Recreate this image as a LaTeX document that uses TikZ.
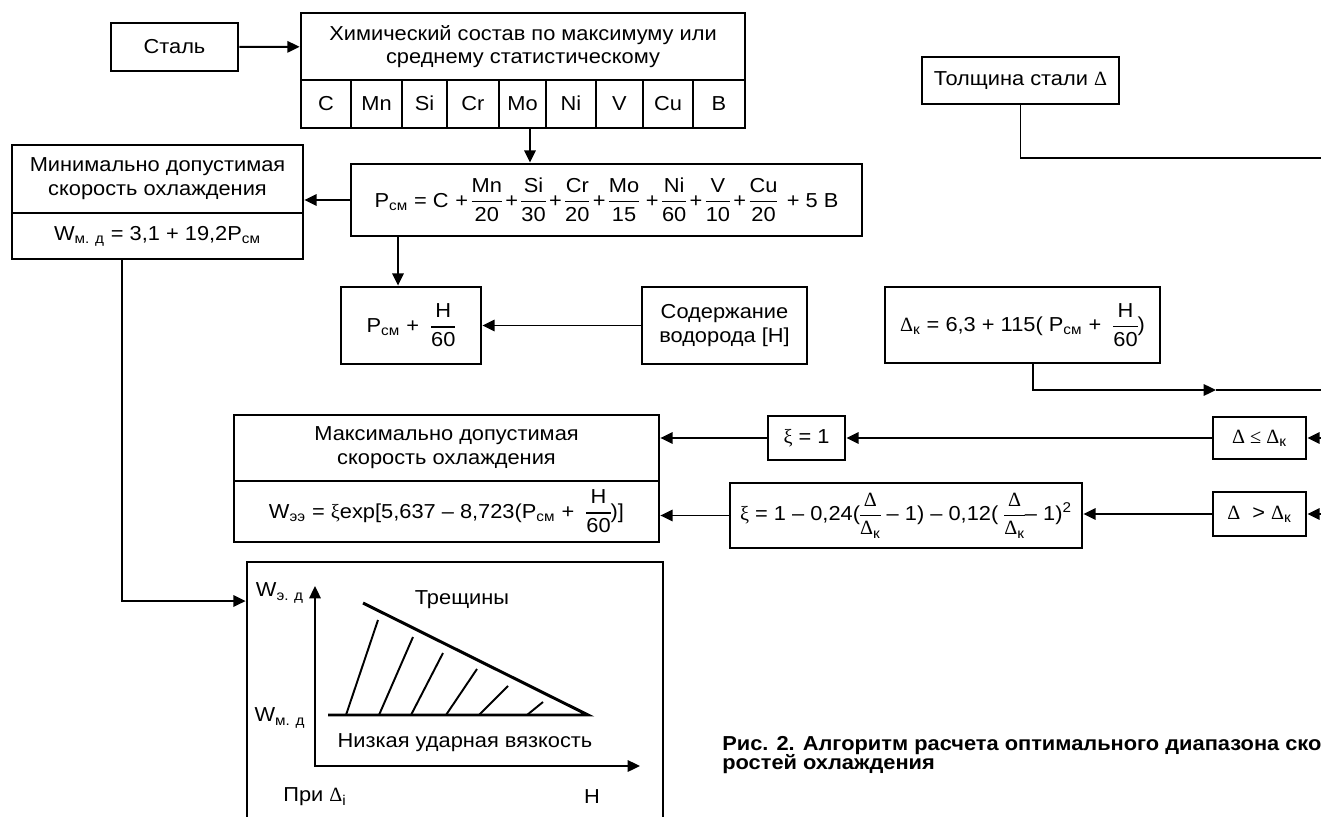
\documentclass[tikz,border=0pt]{standalone}
\usepackage{amsmath}
\usepackage{fontspec}
\setmainfont{Liberation Sans}[FakeStretch=1.08]
\newfontfamily\grk{Liberation Serif}
\usetikzlibrary{arrows.meta,positioning,calc}
\newcommand{\drob}[2]{\ensuremath{\nulldelimiterspace=0pt\genfrac{}{}{0.7pt}{0}{\text{#1}}{\text{#2}}}}
\tikzset{
  txt/.style={font=\fontsize{11.5}{13.5}\selectfont, align=center},
  blk/.style={txt, draw, line width=1.6pt, inner sep=2pt},
  cell/.style={blk, minimum height=0.96cm, text height=1.7ex, text depth=0.3ex},
  con/.style={line width=1.1pt},
  arr/.style={con, -{Triangle[length=7pt,width=6.5pt]}},
  caption/.style={font=\fontsize{11.5}{11}\selectfont\bfseries, align=left, inner sep=0pt},
}

\begin{document}
\begin{tikzpicture}[x=0.02cm, y=-0.02cm]
  \useasboundingbox (0,0) rectangle (1321,817);
  \clip (0,0) rectangle (1321,817);

  % upper left: steel and composition
  \node[blk, minimum width=2.54cm, minimum height=0.96cm] (steel) at (174.5,47) {Сталь};
  \node[blk, minimum width=8.88cm, minimum height=1.34cm] (chem) at (523,46.5)
       {Химический состав по максимуму или\\среднему статистическому};
  \foreach \el/\xa/\xb in {C/301/351, Mn/351/402, Si/402/447, Cr/447/499, Mo/499/546,
                           Ni/546/596, V/596/643, Cu/643/693, B/693/745}
    \node[cell, minimum width={(\xb-\xa)*0.02cm}] (c\el) at ({(\xa+\xb)/2},104) {\el};

  \node[blk, minimum width=10.22cm, minimum height=1.44cm] (pcm) at (606.5,200)
       {P\textsubscript{см} = C\,\,+\,\drob{Mn}{20}\,+\,\drob{Si}{30}\,+\,\drob{Cr}{20}\,+\,\drob{Mo}{15}\,\,+\,\drob{Ni}{60}\,+\,\drob{V}{10}\,+\,\drob{Cu}{20}\, + 5 B};

  \node[blk, minimum width=5.82cm, minimum height=1.36cm] (minhead) at (157.5,179)
       {Минимально допустимая\\скорость охлаждения};
  \node[blk, minimum width=5.82cm, minimum height=0.92cm] (minf) at (157.5,236)
       {W\textsubscript{м. д} = 3,1 + 19,2P\textsubscript{см}};

  \node[blk, minimum width=2.8cm, minimum height=1.54cm] (pcmh) at (411,325.5)
       {P\textsubscript{см} + \ \drob{H}{60}};
  \node[blk, minimum width=3.3cm, minimum height=1.54cm] (hyd) at (724.5,325.5)
       {Содержание\\водорода [H]};

  % right side: thickness and critical thickness
  \node[blk, minimum width=3.94cm, minimum height=0.94cm] (thick) at (1020.5,80.5)
       {Толщина стали {\grk Δ}};
  \node[blk, minimum width=5.5cm, minimum height=1.52cm] (dk) at (1022.5,325)
       {{\grk Δ}\textsubscript{к} = 6,3 + 115( P\textsubscript{см} + \ \drob{H}{60})};
  \node[blk, minimum width=1.86cm, minimum height=0.84cm] (le) at (1259.5,438)
       {{\grk Δ ≤ Δ}\textsubscript{к}};
  \node[blk, minimum width=1.86cm, minimum height=0.88cm] (gt) at (1259.5,514)
       {{\grk Δ}\ \ > {\grk Δ}\textsubscript{к}};
  \node[blk, minimum width=1.54cm, minimum height=0.88cm] (xione) at (806.5,438)
       {{\grk ξ} = 1};
  \node[blk, minimum width=7.04cm, minimum height=1.3cm] (xif) at (906,515.5)
       {{\grk ξ} = 1 -- 0,24(\drob{\grk Δ}{{\grk Δ}\textsubscript{к}} -- 1) -- 0,12( \drob{\grk Δ}{{\grk Δ}\textsubscript{к}}-- 1)\textsuperscript{2}};

  \node[blk, minimum width=8.5cm, minimum height=1.32cm] (maxhead) at (446.5,448)
       {Максимально допустимая\\скорость охлаждения};
  \node[blk, minimum width=8.5cm, minimum height=1.22cm] (maxf) at (446.5,511.5)
       {W\textsubscript{ээ} = {\grk ξ}exp[5,637 -- 8,723(P\textsubscript{см} + \ \drob{H}{60})]};

  % cooling rate plot
  \node[blk, minimum width=8.32cm, minimum height=5.36cm] (plot) at (455,696) {};
  \draw[con, {Triangle[length=7pt,width=6.5pt]}-{Triangle[length=7pt,width=6.5pt]}]
       (315,586) -- (315,766) -- (640,766);
  \draw[line width=1.7pt] (363,603) -- (588,715) -- (328,715);
  \foreach \xa/\xb/\yb in {346/378/620, 379/413/637, 411/443/653, 446/477/669, 479/508/686, 527/543/702}
    \draw[con] (\xa,715) -- (\xb,\yb);
  \node[txt] (wed) at (280,593) {W\textsubscript{э. д}};
  \node[txt] (wmd) at (280,718) {W\textsubscript{м. д}};
  \node[txt] (crack) at (462,600) {Трещины};
  \node[txt] (lowk) at (465,743) {Низкая ударная вязкость};
  \node[txt] (atd) at (315,797) {При {\grk Δ}\textsubscript{i}};
  \node[txt] (haxis) at (592,797) {H};

  % edge coordinates
  \coordinate (eth) at (1340,158);
  \coordinate (ktip) at (1216,390);
  \coordinate (kend) at (1340,390);
  \coordinate (ele) at (1340,438);
  \coordinate (egt) at (1340,514);

  % connectors
  \draw[arr] (steel) -- (chem);
  \draw[arr] ([xshift=0.15cm]cMo.south) -- ([xshift=0.15cm]cMo.south |- pcm.north);
  \draw[arr] (pcm.west) -- (pcm.west -| minhead.east);
  \draw[arr] ([xshift=-0.26cm]pcmh.north |- pcm.south) -- ([xshift=-0.26cm]pcmh.north);
  \draw[arr] (hyd) -- (pcmh);
  \draw[con] (thick.south) |- (eth);
  \draw[arr] ([xshift=0.21cm]dk.south) |- (ktip);
  \draw[con] (ktip) -- (kend);
  \draw[arr] (ele) -- (le);
  \draw[arr] (egt) -- (gt);
  \draw[arr] (le) -- (xione);
  \draw[arr] (gt.west) -- (gt.west -| xif.east);
  \draw[arr] (xione.west) -- (xione.west -| maxhead.east);
  \draw[arr] (xif.west) -- (xif.west -| maxf.east);
  \draw[arr] ([xshift=-0.71cm]minf.south) |- ([yshift=1.9cm]plot.west);

  \node[caption, anchor=north west] (cap) at (722,736)
       {Рис. 2. Алгоритм расчета оптимального диапазона ско-\\ростей охлаждения};
\end{tikzpicture}
\end{document}
